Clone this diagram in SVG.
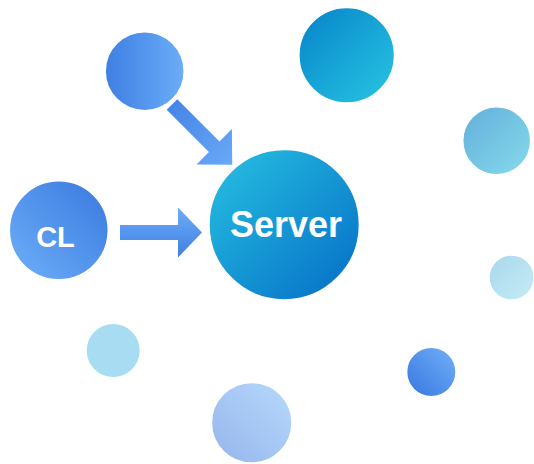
<svg xmlns="http://www.w3.org/2000/svg" width="534" height="464" viewBox="0 0 534 464">
  <defs>
    <linearGradient id="gBlueH" x1="0" y1="0" x2="1" y2="0">
      <stop offset="0" stop-color="#3e7fe3"/>
      <stop offset="1" stop-color="#6badf8"/>
    </linearGradient>
    <linearGradient id="gBlueBLTR" x1="0" y1="1" x2="1" y2="0">
      <stop offset="0" stop-color="#6eaff9"/>
      <stop offset="1" stop-color="#3879df"/>
    </linearGradient>
    <linearGradient id="gBlueTRBL" x1="1" y1="0" x2="0" y2="1">
      <stop offset="0" stop-color="#72b0f9"/>
      <stop offset="1" stop-color="#3777df"/>
    </linearGradient>
    <linearGradient id="gServer" x1="0" y1="0" x2="1" y2="1">
      <stop offset="0" stop-color="#27c2e2"/>
      <stop offset="1" stop-color="#046cc6"/>
    </linearGradient>
    <linearGradient id="gTeal" x1="0" y1="0" x2="1" y2="1">
      <stop offset="0" stop-color="#0583c9"/>
      <stop offset="1" stop-color="#29c6e3"/>
    </linearGradient>
    <linearGradient id="gSky" x1="0" y1="0" x2="1" y2="1">
      <stop offset="0" stop-color="#63aedb"/>
      <stop offset="1" stop-color="#86dbec"/>
    </linearGradient>
    <linearGradient id="gPale" x1="0" y1="0" x2="1" y2="1">
      <stop offset="0" stop-color="#a8d7ed"/>
      <stop offset="1" stop-color="#c6ecf5"/>
    </linearGradient>
    <linearGradient id="gLav" x1="1" y1="0" x2="0" y2="1">
      <stop offset="0" stop-color="#b8d9fb"/>
      <stop offset="1" stop-color="#95b5ed"/>
    </linearGradient>
    <linearGradient id="gArrowH" x1="0" y1="0" x2="0" y2="1">
      <stop offset="0" stop-color="#6eacf7"/>
      <stop offset="1" stop-color="#3f7fe2"/>
    </linearGradient>
    <linearGradient id="gArrowD" x1="0" y1="0" x2="1" y2="0">
      <stop offset="0" stop-color="#4585e7"/>
      <stop offset="1" stop-color="#6aa9f6"/>
    </linearGradient>
  </defs>
  <style>
    .node { stroke: #ffffff; stroke-width: 1.5; }
    .label { font-family: "Liberation Sans", Arial, sans-serif; font-weight: bold; fill: #ffffff; text-anchor: middle; }
  </style>

  <g id="connectors">
    <polygon transform="translate(172,104.5) rotate(45)" points="0,-7.5 59.7,-7.5 59.7,-25 85.2,0 59.7,25 59.7,7.5 0,7.5" fill="url(#gArrowD)"/>
    <polygon points="120,225 178,225 178,207.5 202,232.5 178,257.5 178,240 120,240" fill="url(#gArrowH)"/>
  </g>

  <g id="node-top-left">
    <circle class="node" cx="144.7" cy="71.2" r="39.5" fill="url(#gBlueH)"/>
  </g>
  <g id="node-top-teal">
    <circle class="node" cx="346.7" cy="55.3" r="47.8" fill="url(#gTeal)"/>
  </g>
  <g id="node-right-sky">
    <circle class="node" cx="496.7" cy="140.7" r="34" fill="url(#gSky)"/>
  </g>
  <g id="node-cl">
    <circle class="node" cx="58.8" cy="230.2" r="49.5" fill="url(#gBlueBLTR)"/>
    <text class="label" x="55.5" y="246.5" font-size="29">CL</text>
  </g>
  <g id="node-server">
    <circle class="node" cx="284.2" cy="224.7" r="75.2" fill="url(#gServer)"/>
    <text class="label" x="286" y="237.3" font-size="36">Server</text>
  </g>
  <g id="node-right-pale">
    <circle class="node" cx="511.6" cy="277.5" r="22.6" fill="url(#gPale)"/>
  </g>
  <g id="node-left-light">
    <circle class="node" cx="113.2" cy="350.5" r="27.2" fill="#a7dcf2"/>
  </g>
  <g id="node-small-blue">
    <circle class="node" cx="431.3" cy="372" r="24.7" fill="url(#gBlueTRBL)"/>
  </g>
  <g id="node-bottom">
    <circle class="node" cx="251.7" cy="422.8" r="40.3" fill="url(#gLav)"/>
  </g>
</svg>
